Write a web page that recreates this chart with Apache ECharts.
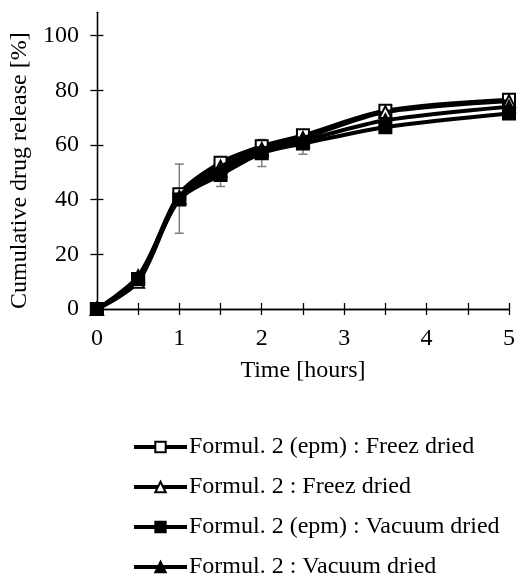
<!DOCTYPE html>
<html>
<head>
<meta charset="utf-8">
<script src="https://cdn.jsdelivr.net/npm/echarts@6/dist/echarts.min.js"></script>
<style>html,body{margin:0;padding:0;background:#fff}#c{width:518px;height:575px}</style>
</head>
<body>
<div id="c"></div>
<script>
const times = [0, 0.5, 1, 1.5, 2, 2.5, 3.5, 5];
const seriesNames = [
  'Formul. 2 (epm) : Freez dried',
  'Formul. 2 : Freez dried',
  'Formul. 2 (epm) : Vacuum dried',
  'Formul. 2 : Vacuum dried'
];
const epmFreez = [0, 11, 42, 53.5, 59.5, 63.5, 72.5, 76.5];
const freez = [0, 10, 41, 52, 58.5, 62.5, 72, 76];
const epmVacuum = [0, 11, 40, 49, 57, 60.5, 66.5, 71.5];
const vacuum = [0, 12, 40.5, 50.5, 58, 61.5, 69, 74];
const errTimes = [1, 1.5, 2, 2.5];
const errLow = [27.7, 44.8, 52.1, 56.6];
const errHigh = [53, 53, 62, 64.5];
const yTickLabels = [0, 20, 40, 60, 80, 100];
const xTickLabels = [0, 1, 2, 3, 4, 5];

const FONT = 'Liberation Serif';
const FS = 24;
const pair = arr => times.map((t, i) => [t, arr[i]]);
const symbols = ['emptyRect', 'emptyTriangle', 'rect', 'triangle'];
const values = [epmFreez, freez, epmVacuum, vacuum];

const lineSeries = values.map((v, i) => ({
  name: seriesNames[i],
  type: 'line',
  smooth: 0.3,
  data: pair(v),
  symbol: symbols[i],
  symbolSize: 12,
  lineStyle: { color: '#000', width: 4 },
  itemStyle: { color: '#000', borderColor: '#000', borderWidth: 2 },
  z: 3 + i,
  animation: false
}));

const errSeries = {
  type: 'custom',
  z: 2,
  silent: true,
  animation: false,
  data: errTimes.map((t, i) => [t, errLow[i], errHigh[i]]),
  encode: { x: 0, y: [1, 2] },
  renderItem: function (params, api) {
    const x = api.value(0);
    const lo = api.coord([x, api.value(1)]);
    const hi = api.coord([x, api.value(2)]);
    const cap = 4.5;
    const st = { stroke: '#7f7f7f', lineWidth: 1.5 };
    return {
      type: 'group',
      children: [
        { type: 'line', shape: { x1: lo[0], y1: lo[1], x2: hi[0], y2: hi[1] }, style: st },
        { type: 'line', shape: { x1: lo[0] - cap, y1: lo[1], x2: lo[0] + cap, y2: lo[1] }, style: st },
        { type: 'line', shape: { x1: hi[0] - cap, y1: hi[1], x2: hi[0] + cap, y2: hi[1] }, style: st }
      ]
    };
  }
};

const axisLineStyle = { color: '#000', width: 1.3 };
const yBase = {
  type: 'value', min: 0, max: 108.5, position: 'left',
  axisLine: { show: true, lineStyle: axisLineStyle },
  splitLine: { show: false }
};
const xBase = {
  type: 'value', min: 0, max: 5, interval: 0.5, position: 'bottom',
  axisLine: { show: true, lineStyle: axisLineStyle },
  splitLine: { show: false }
};

const chart = echarts.init(document.getElementById('c'), null, { renderer: 'canvas' });
chart.setOption({
  backgroundColor: '#fff',
  animation: false,
  textStyle: { fontFamily: FONT, color: '#000' },
  grid: { left: 96.7, right: 8, top: 12.3, bottom: 266 },
  xAxis: [
    Object.assign({}, xBase, {
      name: 'Time [hours]', nameLocation: 'middle', nameGap: 50,
      nameTextStyle: { fontFamily: FONT, fontSize: FS, color: '#000' },
      axisTick: { show: true, inside: false, length: 6, lineStyle: axisLineStyle },
      axisLabel: { customValues: xTickLabels, fontFamily: FONT, fontSize: FS, color: '#000', margin: 18 }
    }),
    Object.assign({}, xBase, {
      axisTick: { show: true, inside: true, length: 6, lineStyle: axisLineStyle },
      axisLabel: { show: false }
    })
  ],
  yAxis: [
    Object.assign({}, yBase, {
      name: 'Cumulative drug release [%]', nameLocation: 'middle', nameGap: 62,
      nameTextStyle: { fontFamily: FONT, fontSize: FS, color: '#000', padding: [0, 20, 0, 0] },
      axisTick: { show: true, inside: false, length: 6.5, customValues: yTickLabels, lineStyle: axisLineStyle },
      axisLabel: { customValues: yTickLabels, fontFamily: FONT, fontSize: FS, color: '#000', margin: 18 }
    }),
    Object.assign({}, yBase, {
      axisTick: { show: true, inside: true, length: 6.5, customValues: yTickLabels, lineStyle: axisLineStyle },
      axisLabel: { show: false }
    })
  ],
  legend: {
    orient: 'vertical', left: 132, top: 435, height: 160, padding: 0,
    itemWidth: 53, itemHeight: 13, itemGap: 16,
    data: seriesNames,
    lineStyle: { width: 4, color: '#000' },
    textStyle: { fontFamily: FONT, fontSize: FS, color: '#000', padding: [0, 0, 0, -3] }
  },
  series: [errSeries].concat(lineSeries)
});
</script>
</body>
</html>
